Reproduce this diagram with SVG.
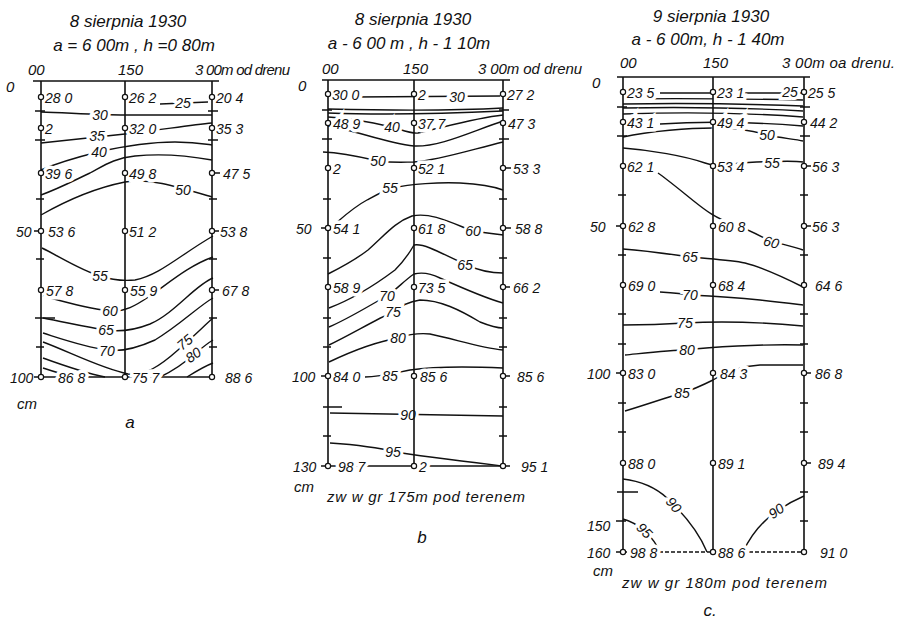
<svg xmlns="http://www.w3.org/2000/svg" width="897" height="622" viewBox="0 0 897 622">
<style>
text{font-family:"Liberation Sans","DejaVu Sans",sans-serif;font-style:italic;fill:#111}
.t{font-size:17px;text-anchor:middle}
.h{font-size:15px}
.v{font-size:14px;stroke:#fff;stroke-width:7;paint-order:stroke}
.cl{font-size:14px;text-anchor:middle;stroke:#fff;stroke-width:6;paint-order:stroke}
.ax{stroke:#111;stroke-width:1.6;fill:none}
.ct{stroke:#111;stroke-width:1.4;fill:none}
.tk{stroke:#111;stroke-width:1.4}
.pt{fill:#fff;stroke:#111;stroke-width:1.2}
</style>
<rect width="897" height="622" fill="#fff"/>

<!-- ================= PANEL A ================= -->
<g id="panel-a">
<g id="a-contours">
<path class="ct" d="M160,104 L208,102"/>
<path class="ct" d="M41,112 C70,113 100,115 125,115 C160,115 190,115 212,115"/>
<path class="ct" d="M41,143 C60,141 90,138 125,134 C160,130 190,125 212,123"/>
<path class="ct" d="M41,170 C55,164 70,159 98,152 C120,147 150,142 175,142 C195,142 205,144 212,145"/>
<path class="ct" d="M41,195 C60,188 75,180 90,173 C105,165 115,158 135,156 C165,153 190,156 212,160"/>
<path class="ct" d="M41,215 C55,207 85,190 125,182 C150,178 175,186 212,197"/>
<path class="ct" d="M42,248 C62,258 80,270 100,276 C112,280 125,281 135,280 C160,275 180,255 213,236"/>
<path class="ct" d="M43,296 C65,302 85,308 110,311 C125,312 135,306 150,296 C170,282 190,265 213,257"/>
<path class="ct" d="M43,318 C65,322 85,327 106,330 C120,332 135,330 150,324 C175,313 195,285 213,278"/>
<path class="ct" d="M43,333 C65,340 85,347 107,350 C120,352 135,349 155,340 C180,325 200,305 213,298"/>
<path class="ct" d="M43,342 C70,352 100,368 128,374 C145,376 160,366 178,350 C195,335 205,325 213,318"/>
<path class="ct" d="M43,358 C65,366 85,373 105,377"/>
<path class="ct" d="M160,377 C175,370 188,360 197,352 C203,347 208,343 213,340"/>
<path class="ct" d="M43,368 C55,372 65,375 75,377"/>
<path class="ct" d="M187,377 C195,372 205,366 213,363"/>
<path class="ax" d="M41,377 H212"/>
</g>
<g id="a-text">
<text class="t" x="128" y="27">8 sierpnia 1930</text>
<text class="t" x="134" y="51">a = 6 00m , h =0 80m</text>
<text class="h" x="28" y="75">00</text>
<text class="h" x="118" y="75">150</text>
<text class="h" x="195" y="75" textLength="95">3 00m od drenu</text>
<text class="h" x="6" y="92">0</text>
<text class="v" x="45" y="103">28 0</text><text class="v" x="129" y="103">26 2</text><text class="v" x="216" y="103">20 4</text>
<text class="v" x="45" y="134">2</text><text class="v" x="129" y="134">32 0</text><text class="v" x="216" y="134">35 3</text>
<text class="v" x="45" y="179">39 6</text><text class="v" x="129" y="179">49 8</text><text class="v" x="223" y="179">47 5</text>
<text class="v" x="16" y="237">50</text><text class="v" x="48" y="237">53 6</text><text class="v" x="129" y="237">51 2</text><text class="v" x="220" y="237">53 8</text>
<text class="v" x="46" y="296">57 8</text><text class="v" x="130" y="296">55 9</text><text class="v" x="222" y="296">67 8</text>
<text class="v" x="10" y="383">100</text><text class="v" x="58" y="383">86 8</text><text class="v" x="132" y="383">75 7</text><text class="v" x="225" y="383">88 6</text>
<text class="h" x="17" y="409">cm</text>
<text class="cl" x="183" y="108">25</text>
<text class="cl" x="100" y="120">30</text>
<text class="cl" x="97" y="141">35</text>
<text class="cl" x="99" y="157">40</text>
<text class="cl" x="183" y="195">50</text>
<text class="cl" x="100" y="281">55</text>
<text class="cl" x="110" y="316">60</text>
<text class="cl" x="106" y="335">65</text>
<text class="cl" x="107" y="356">70</text>
<text class="cl" transform="translate(188,346) rotate(-40)">75</text>
<text class="cl" transform="translate(196,359) rotate(-35)">80</text>
<text class="t" x="130" y="428">a</text>
</g>
<g id="a-frame">
<path class="ax" d="M33,81 H219 M41,81 V378 M125,81 V378 M212,81 V378"/>
<path class="tk" d="M35,111 H45 M35,140 H45 M36,199 H44 M36,259 H44 M36,347 H44 M35,318 H55 M34,231 H41 M34,377 H41 M208,111 H218 M208,140 H218 M209,199 H217 M209,259 H217 M209,318 H217 M209,347 H217 M212,173 H220 M212,231 H219 M212,290 H219"/>
</g>
<g id="a-points">
<circle class="pt" cx="41" cy="97" r="2.6"/><circle class="pt" cx="125" cy="97" r="2.6"/><circle class="pt" cx="212" cy="97" r="2.6"/>
<circle class="pt" cx="41" cy="128" r="2.6"/><circle class="pt" cx="125" cy="128" r="2.6"/><circle class="pt" cx="212" cy="128" r="2.6"/>
<circle class="pt" cx="41" cy="173" r="2.6"/><circle class="pt" cx="125" cy="173" r="2.6"/><circle class="pt" cx="212" cy="173" r="2.6"/>
<circle class="pt" cx="41" cy="231" r="2.6"/><circle class="pt" cx="125" cy="231" r="2.6"/><circle class="pt" cx="212" cy="231" r="2.6"/>
<circle class="pt" cx="41" cy="290" r="2.6"/><circle class="pt" cx="125" cy="290" r="2.6"/><circle class="pt" cx="212" cy="290" r="2.6"/>
<circle class="pt" cx="41" cy="377" r="2.6"/><circle class="pt" cx="125" cy="377" r="2.6"/><circle class="pt" cx="212" cy="377" r="2.6"/>
</g>
</g>

<!-- ================= PANEL B ================= -->
<g id="panel-b">
<g id="b-contours">
<path class="ct" d="M355,97 L500,96"/>
<path class="ct" d="M328,109 C370,110 450,111 503,108"/>
<path class="ct" d="M328,113 C380,115 440,114 503,111"/>
<path class="ct" d="M328,117 C350,118 370,122 392,127 C405,131 412,134 418,133 C445,127 475,118 503,115"/>
<path class="ct" d="M328,126 C355,130 385,143 414,146 C440,147 470,132 503,121"/>
<path class="ct" d="M323,152 C345,153 365,158 378,161 C395,163 405,162 414,162 C440,160 470,150 503,142"/>
<path class="ct" d="M330,228 C340,220 352,208 367,200 C378,194 385,190 393,188 C410,184 440,182 460,183 C480,184 495,187 503,190"/>
<path class="ct" d="M328,274 C340,268 355,260 368,250 C385,235 395,222 412,216 C430,212 450,222 470,230 C485,233 495,234 503,235"/>
<path class="ct" d="M329,308 C350,300 375,285 395,270 C405,260 410,252 414,245 C420,244 425,246 430,248 C440,252 455,260 467,265 C480,271 495,273 503,273"/>
<path class="ct" d="M329,327 C350,318 370,305 387,296 C398,288 405,280 414,274 C422,272 430,273 440,278 C460,287 485,298 503,303"/>
<path class="ct" d="M329,345 C350,335 375,320 393,312 C400,306 408,302 420,300 C440,300 460,310 480,322 C490,326 498,328 503,328"/>
<path class="ct" d="M329,362 C350,352 375,342 398,338 C410,334 420,333 430,334 C455,339 480,348 503,350"/>
<path class="ct" d="M365,377 C380,377 395,373 410,370 C430,367 460,366 503,368"/>
<path class="ct" d="M330,413 L503,416"/>
<path class="ct" d="M330,443 C360,445 380,448 395,452 C420,456 470,462 503,466"/>
<path class="ax" d="M328,466 H503"/>
</g>
<g id="b-text">
<text class="t" x="413" y="25">8 sierpnia 1930</text>
<text class="t" x="409" y="49">a - 6 00 m , h - 1 10m</text>
<text class="h" x="322" y="74">00</text>
<text class="h" x="403" y="74">150</text>
<text class="h" x="478" y="74" textLength="104">3 00m od drenu</text>
<text class="h" x="298" y="91">0</text>
<text class="v" x="332" y="100">30 0</text><text class="v" x="418" y="100">2</text><text class="v" x="507" y="100">27 2</text>
<text class="v" x="333" y="129">48 9</text><text class="v" x="418" y="129">37 7</text><text class="v" x="508" y="129">47 3</text>
<text class="v" x="333" y="174">2</text><text class="v" x="418" y="174">52 1</text><text class="v" x="513" y="174">53 3</text>
<text class="v" x="296" y="234">50</text><text class="v" x="333" y="234">54 1</text><text class="v" x="418" y="234">61 8</text><text class="v" x="515" y="234">58 8</text>
<text class="v" x="333" y="293">58 9</text><text class="v" x="418" y="293">73 5</text><text class="v" x="513" y="293">66 2</text>
<text class="v" x="292" y="382">100</text><text class="v" x="333" y="382">84 0</text><text class="v" x="420" y="382">85 6</text><text class="v" x="517" y="382">85 6</text>
<text class="v" x="293" y="472">130</text><text class="v" x="338" y="472">98 7</text><text class="v" x="419" y="472">2</text><text class="v" x="521" y="472">95 1</text>
<text class="h" x="294" y="492">cm</text>
<text class="h" x="327" y="502" textLength="198">zw w gr 175m pod terenem</text>
<text class="cl" x="457" y="102">30</text>
<text class="cl" x="392" y="132">40</text>
<text class="cl" x="378" y="166">50</text>
<text class="cl" x="390" y="193">55</text>
<text class="cl" x="473" y="236">60</text>
<text class="cl" x="465" y="270">65</text>
<text class="cl" x="387" y="301">70</text>
<text class="cl" x="393" y="317">75</text>
<text class="cl" x="398" y="343">80</text>
<text class="cl" x="390" y="381">85</text>
<text class="cl" x="408" y="420">90</text>
<text class="cl" x="393" y="457">95</text>
<text class="t" x="422" y="543">b</text>
</g>
<g id="b-frame">
<path class="ax" d="M322,80 H510 M328,80 V466 M414,80 V466 M503,80 V466"/>
<path class="tk" d="M322,110 H332 M322,139 H332 M323,199 H331 M323,258 H331 M323,318 H331 M323,347 H331 M323,436 H331 M323,407 H342 M321,228 H328 M321,376 H328 M321,466 H328 M499,110 H509 M499,139 H509 M499,199 H507 M499,258 H507 M499,318 H507 M499,347 H507 M499,407 H507 M499,436 H507 M503,168 H511 M503,228 H511 M503,287 H510 M503,376 H510 M503,466 H510"/>
</g>
<g id="b-points">
<circle class="pt" cx="328" cy="94" r="2.6"/><circle class="pt" cx="414" cy="94" r="2.6"/><circle class="pt" cx="503" cy="94" r="2.6"/>
<circle class="pt" cx="328" cy="123" r="2.6"/><circle class="pt" cx="414" cy="123" r="2.6"/><circle class="pt" cx="503" cy="123" r="2.6"/>
<circle class="pt" cx="328" cy="168" r="2.6"/><circle class="pt" cx="414" cy="168" r="2.6"/><circle class="pt" cx="503" cy="168" r="2.6"/>
<circle class="pt" cx="328" cy="228" r="2.6"/><circle class="pt" cx="414" cy="228" r="2.6"/><circle class="pt" cx="503" cy="228" r="2.6"/>
<circle class="pt" cx="328" cy="287" r="2.6"/><circle class="pt" cx="414" cy="287" r="2.6"/><circle class="pt" cx="503" cy="287" r="2.6"/>
<circle class="pt" cx="328" cy="376" r="2.6"/><circle class="pt" cx="414" cy="376" r="2.6"/><circle class="pt" cx="503" cy="376" r="2.6"/>
<circle class="pt" cx="328" cy="466" r="2.6"/><circle class="pt" cx="414" cy="466" r="2.6"/><circle class="pt" cx="503" cy="466" r="2.6"/>
</g>
</g>

<!-- ================= PANEL C ================= -->
<g id="panel-c">
<g id="c-contours">
<path class="ct" d="M660,93 L803,93"/>
<path class="ct" d="M626,99 C680,98 750,99 803,100"/>
<path class="ct" d="M623,104 C680,103 750,104 803,106"/>
<path class="ct" d="M623,108 C680,107 750,108 803,111"/>
<path class="ct" d="M623,114 C680,112 750,113 803,117"/>
<path class="ct" d="M660,124 C690,122 740,121 803,126"/>
<path class="ct" d="M623,137 C650,131 690,128 713,128 C740,128 755,131 767,135 C780,138 795,139 803,141"/>
<path class="ct" d="M623,148 C650,150 685,156 705,163 C715,167 725,165 740,163 C760,162 790,160 803,162"/>
<path class="ct" d="M658,173 C668,180 680,190 695,202 C705,210 715,218 735,225 C750,230 760,236 770,241 C785,245 795,247 803,250"/>
<path class="ct" d="M623,249 C650,251 675,255 690,257 C710,259 730,260 745,263 C765,268 785,278 803,287"/>
<path class="ct" d="M660,292 C675,293 685,294 690,295 C710,296 740,298 760,300 C780,302 795,304 803,305"/>
<path class="ct" d="M623,325 C650,325 670,324 685,323 C720,321 760,322 803,326"/>
<path class="ct" d="M625,355 C645,353 670,350 687,350 C710,347 760,344 803,345"/>
<path class="ct" d="M625,411 C645,405 665,398 682,393 C695,389 705,384 713,380 C725,372 740,366 760,365 L803,365"/>
<path class="ct" d="M623,479 C640,481 655,487 667,498 C685,515 700,535 707,552"/>
<path class="ct" d="M743,552 C750,537 760,524 773,514 C785,505 797,499 804,496"/>
<path class="ct" d="M623,519 C632,521 640,527 646,532 C652,538 657,545 660,552"/>
<path class="ax" d="M623,552 H804" stroke-dasharray="4 2"/>
</g>
<g id="c-text">
<text class="t" x="711" y="22">9 sierpnia 1930</text>
<text class="t" x="708" y="45">a - 6 00m, h - 1 40m</text>
<text class="h" x="620" y="68">00</text>
<text class="h" x="703" y="68">150</text>
<text class="h" x="782" y="68" textLength="113">3 00m oa drenu.</text>
<text class="h" x="592" y="88">0</text>
<text class="v" x="627" y="98">23 5</text><text class="v" x="717" y="98">23 1</text><text class="v" x="808" y="98">25 5</text>
<text class="v" x="627" y="128">43 1</text><text class="v" x="717" y="128">49 4</text><text class="v" x="810" y="128">44 2</text>
<text class="v" x="627" y="172">62 1</text><text class="v" x="717" y="172">53 4</text><text class="v" x="812" y="172">56 3</text>
<text class="v" x="590" y="232">50</text><text class="v" x="628" y="232">62 8</text><text class="v" x="718" y="232">60 8</text><text class="v" x="812" y="232">56 3</text>
<text class="v" x="628" y="291">69 0</text><text class="v" x="718" y="291">68 4</text><text class="v" x="815" y="291">64 6</text>
<text class="v" x="587" y="379">100</text><text class="v" x="628" y="379">83 0</text><text class="v" x="720" y="379">84 3</text><text class="v" x="815" y="379">86 8</text>
<text class="v" x="628" y="469">88 0</text><text class="v" x="718" y="469">89 1</text><text class="v" x="818" y="469">89 4</text>
<text class="v" x="587" y="531">150</text>
<text class="v" x="587" y="558">160</text><text class="v" x="630" y="558">98 8</text><text class="v" x="718" y="558">88 6</text><text class="v" x="820" y="558">91 0</text>
<text class="h" x="593" y="576">cm</text>
<text class="h" x="622" y="588" textLength="205">zw w gr 180m pod terenem</text>
<text class="cl" x="790" y="97">25</text>
<text class="cl" x="767" y="140">50</text>
<text class="cl" x="772" y="168">55</text>
<text class="cl" transform="translate(770,247) rotate(15)">60</text>
<text class="cl" x="690" y="262">65</text>
<text class="cl" x="690" y="300">70</text>
<text class="cl" x="685" y="328">75</text>
<text class="cl" x="687" y="355">80</text>
<text class="cl" x="682" y="398">85</text>
<text class="cl" transform="translate(670,508) rotate(50)">90</text>
<text class="cl" transform="translate(779,515) rotate(-35)">90</text>
<text class="cl" transform="translate(641,534) rotate(45)">95</text>
<text class="t" x="710" y="616">c.</text>
</g>
<g id="c-frame">
<path class="ax" d="M617,77 H810 M623,77 V552 M713,77 V552 M804,77 V552"/>
<path class="tk" d="M617,107 H627 M617,136 H627 M618,195 H626 M618,255 H626 M618,314 H626 M618,344 H626 M618,403 H626 M618,432 H626 M617,492 H638 M616,226 H623 M616,373 H623 M616,521 H626 M616,552 H623 M800,107 H810 M800,136 H810 M800,195 H808 M800,255 H808 M800,314 H808 M800,344 H808 M800,403 H808 M800,432 H808 M800,492 H808 M800,521 H808 M804,166 H811 M804,226 H811 M804,373 H811 M804,463 H811"/>
</g>
<g id="c-points">
<circle class="pt" cx="623" cy="92" r="2.6"/><circle class="pt" cx="713" cy="92" r="2.6"/><circle class="pt" cx="804" cy="92" r="2.6"/>
<circle class="pt" cx="623" cy="122" r="2.6"/><circle class="pt" cx="713" cy="122" r="2.6"/><circle class="pt" cx="804" cy="122" r="2.6"/>
<circle class="pt" cx="623" cy="166" r="2.6"/><circle class="pt" cx="713" cy="166" r="2.6"/><circle class="pt" cx="804" cy="166" r="2.6"/>
<circle class="pt" cx="623" cy="226" r="2.6"/><circle class="pt" cx="713" cy="226" r="2.6"/><circle class="pt" cx="804" cy="226" r="2.6"/>
<circle class="pt" cx="623" cy="285" r="2.6"/><circle class="pt" cx="713" cy="285" r="2.6"/><circle class="pt" cx="804" cy="285" r="2.6"/>
<circle class="pt" cx="623" cy="373" r="2.6"/><circle class="pt" cx="713" cy="373" r="2.6"/><circle class="pt" cx="804" cy="373" r="2.6"/>
<circle class="pt" cx="623" cy="463" r="2.6"/><circle class="pt" cx="713" cy="463" r="2.6"/><circle class="pt" cx="804" cy="463" r="2.6"/>
<circle class="pt" cx="623" cy="552" r="2.6"/><circle class="pt" cx="713" cy="552" r="2.6"/><circle class="pt" cx="804" cy="552" r="2.6"/>
</g>
</g>
</svg>
